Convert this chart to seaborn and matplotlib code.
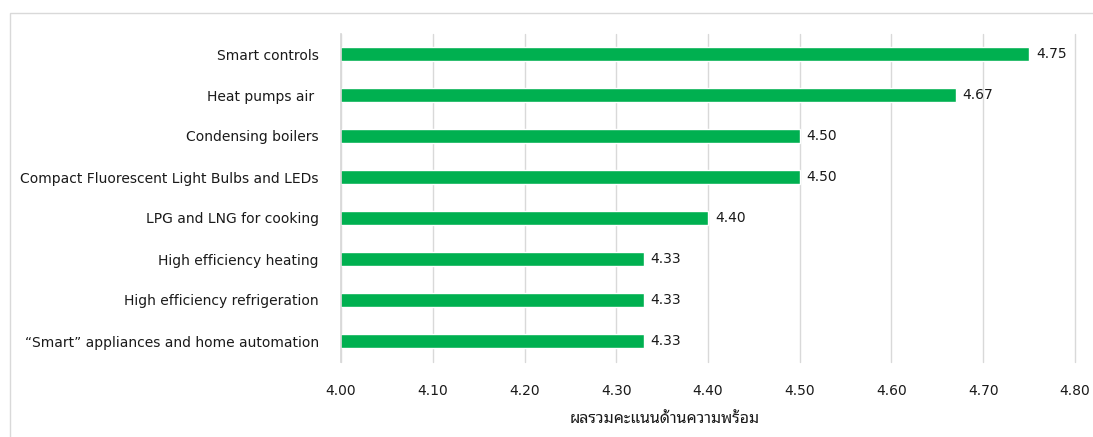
import matplotlib
matplotlib.use("Agg")
import matplotlib.pyplot as plt
import seaborn as sns
import pandas as pd
from matplotlib.patches import Rectangle

categories = [
    "Smart controls",
    "Heat pumps air ",
    "Condensing boilers",
    "Compact Fluorescent Light Bulbs and LEDs",
    "LPG and LNG for cooking",
    "High efficiency heating",
    "High efficiency refrigeration",
    "\u201cSmart\u201d appliances and home automation",
]
values = [4.75, 4.67, 4.50, 4.50, 4.40, 4.33, 4.33, 4.33]
value_labels = ["4.75", "4.67", "4.50", "4.50", "4.40", "4.33", "4.33", "4.33"]
x_ticks = [4.00, 4.10, 4.20, 4.30, 4.40, 4.50, 4.60, 4.70, 4.80]
x_label = "ผลรวมคะแนนด้านความพร้อม"

sns.set_theme(style="white")
plt.rcParams['font.family'] = ['DejaVu Sans', 'Noto Sans Thai Looped', 'Sarabun', 'Noto Sans Thai', 'Anuphan']

df = pd.DataFrame({"category": categories, "value": values})

fig = plt.figure(figsize=(10.93, 4.37), dpi=100)
fig.patch.set_facecolor("white")
fig.patches.append(Rectangle((10/1093, -0.01), 1.1, 1 - 13/437 + 0.01,
                             transform=fig.transFigure, fill=False,
                             edgecolor="#D9D9D9", linewidth=1.0))
ax = fig.add_axes([341/1093, 1 - 361.5/437, (1075 - 341)/1093, (361.5 - 33.5)/437])

sns.barplot(data=df, y="category", x="value", color="#00B050", width=0.34,
            saturation=1, ax=ax, orient="h")
ax.set_xlim(4.0, 4.8)
ax.set_xticks(x_ticks)
ax.set_xticklabels([f"{t:.2f}" for t in x_ticks], fontsize=10, color="#1a1a1a")
ax.tick_params(axis="x", length=0, pad=16)
ax.tick_params(axis="y", length=0, pad=16, labelsize=10, labelcolor="#1a1a1a")
ax.grid(axis="x", color="#D9D9D9", linewidth=1.0)
for gl in ax.get_xgridlines():
    gl.set_clip_on(False)
ax.set_axisbelow(True)
for s in ["top", "right", "bottom"]:
    ax.spines[s].set_visible(False)
ax.spines["left"].set_color("#D9D9D9")
ax.set_ylabel("")
ax.set_xlabel(x_label, fontsize=11.5, color="#1a1a1a",
              family=['Noto Sans Thai Looped', 'Sarabun', 'Noto Sans Thai', 'Anuphan', 'DejaVu Sans'])
ax.xaxis.set_label_coords((665 - 341) / 734, -(420 - 361.5) / 328, transform=ax.transAxes)
ax.xaxis.label.set_va("center")

for i, (v, lab) in enumerate(zip(values, value_labels)):
    ax.annotate(lab, (v, i), xytext=(5, 0), textcoords="offset points",
                va="center", ha="left", fontsize=10, color="#1a1a1a")

fig.savefig("out.png", dpi=100)
